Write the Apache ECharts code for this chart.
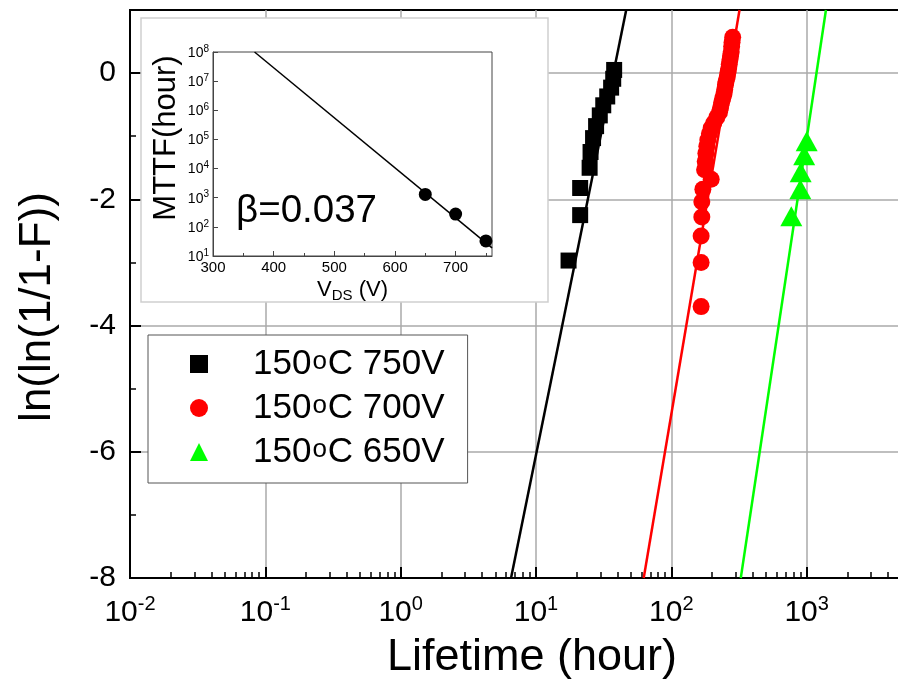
<!DOCTYPE html>
<html>
<head>
<meta charset="utf-8">
<script src="https://cdn.jsdelivr.net/npm/echarts@6/dist/echarts.min.js"></script>
<style>html,body{margin:0;padding:0;background:#fff}#c{width:898px;height:687px}</style>
</head>
<body>
<div id="c"></div>
<script>
// ---------- data ----------
const legendNames = ['150°C 750V', '150°C 700V', '150°C 650V'];

// 150°C 750V (black squares)
const t750 = [17.4, 21.2, 21.2, 24.9, 25.3, 26.4, 27.8, 29.6, 31.4, 33.6, 35.9, 37.2, 37.8];
const y750 = [-2.97, -2.25, -1.82, -1.50, -1.25, -1.03, -0.84, -0.67, -0.51, -0.37, -0.23, -0.09, 0.05];
// 150°C 700V (red circles)
const t700 = [166, 166, 166, 168, 168, 171, 197, 176, 178, 180, 183, 186, 191, 197, 206, 217, 227, 231, 235, 240, 245, 248, 251, 254, 259, 262, 265, 268, 271, 274, 277, 279, 281, 284];
const y700 = [-3.70, -3.00, -2.58, -2.28, -2.04, -1.84, -1.68, -1.53, -1.40, -1.27, -1.16, -1.06, -0.96, -0.87, -0.79, -0.70, -0.62, -0.55, -0.47, -0.40, -0.33, -0.26, -0.19, -0.13, -0.06, 0.01, 0.07, 0.14, 0.21, 0.27, 0.34, 0.42, 0.49, 0.57];
// 150°C 650V (green triangles)
const t650 = [770, 898, 903, 959, 1000];
const y650 = [-2.27, -1.84, -1.57, -1.30, -1.08];

// Weibull fit lines (end points)
const fitT750 = [6.54, 46.4];
const fitT700 = [62.5, 319];
const fitT650 = [326, 1388];
const fitY = [-8, 1];

// inset: MTTF vs VDS
const insetV = [650, 700, 750];
const insetMTTF = [1300, 275, 33];
const insetFitV = [368.5, 760];
const insetFitMTTF = [1e8, 19];
const betaText = 'β=0.037';

// ticks
const yMajor = [-8, -6, -4, -2, 0];
const yMinor = [-7, -5, -3, -1];
const insetXMajor = [300, 400, 500, 600, 700];
const insetXMinor = [350, 450, 550, 650, 750];

// ---------- helpers ----------
const FF = '"Liberation Sans", Arial, sans-serif';
const zip = (a, b) => a.map((v, i) => [v, b[i]]);
const minorX = [];
for (let d = -2; d <= 3; d++) for (let m = 2; m <= 9; m++) minorX.push(+(m * Math.pow(10, d)).toPrecision(3));
const supLabel = v => '{b|10}{s|' + Math.round(Math.log10(v)) + '}';

const chart = echarts.init(document.getElementById('c'), null, {renderer: 'canvas'});
const option = {
  animation: false,
  backgroundColor: '#fff',
  textStyle: {fontFamily: FF},
  grid: [
    {left: 130, top: 10, right: -44, bottom: 109, outerBoundsMode: 'none', containLabel: false, show: true, borderColor: '#000', borderWidth: 2, backgroundColor: 'transparent'},
    {left: 213, top: 52, width: 279, height: 204, outerBoundsMode: 'none', containLabel: false, show: true, borderColor: '#444', borderWidth: 1, backgroundColor: 'transparent', z: 60}
  ],
  graphic: [
    {type: 'rect', z: 50, shape: {x: 141, y: 18, width: 407, height: 284}, style: {fill: '#fff', stroke: '#cfcfcf', lineWidth: 1.5}},
    {type: 'text', z: 65, x: 236, y: 211, style: {text: betaText, font: '38.5px ' + FF, fill: '#000', textVerticalAlign: 'middle', textAlign: 'left'}}
  ],
  legend: {
    orient: 'vertical', left: 148, top: 335, padding: [7, 23, 9, 42],
    itemWidth: 18, itemHeight: 18, itemGap: 0,
    backgroundColor: '#fff', borderColor: '#555', borderWidth: 1,
    data: legendNames,
    formatter: n => '{a|150}{o|o}{a|' + n.slice(4) + '}',
    textStyle: {
      fontSize: 35, lineHeight: 44, color: '#000', padding: [0, 0, 0, 40],
      rich: {
        a: {fontSize: 35, lineHeight: 44, color: '#000', fontFamily: FF},
        o: {fontSize: 26, lineHeight: 44, color: '#000', fontFamily: FF, padding: [0, 1, 5, 1]}
      }
    }
  },
  xAxis: [
    {
      type: 'log', logBase: 10, gridIndex: 0, min: 0.01, max: 10000, position: 'bottom',
      axisLine: {onZero: false, lineStyle: {color: '#000', width: 2}},
      axisTick: {inside: true, length: 11, lineStyle: {color: '#000', width: 2}},
      splitLine: {show: true, lineStyle: {color: '#aaa', width: 1.5}},
      axisLabel: {
        margin: 16, color: '#000', formatter: supLabel,
        rich: {
          b: {fontSize: 30, lineHeight: 34, fontFamily: FF, color: '#000', verticalAlign: 'bottom'},
          s: {fontSize: 20, lineHeight: 20, fontFamily: FF, color: '#000', verticalAlign: 'top'}
        }
      },
      name: 'Lifetime (hour)', nameLocation: 'middle', nameGap: 57,
      nameTextStyle: {fontSize: 45, color: '#000', fontFamily: FF, padding: [0, 8, 0, 0]}
    },
    {
      type: 'log', logBase: 10, gridIndex: 0, min: 0.01, max: 10000, position: 'bottom',
      axisLine: {show: false, onZero: false}, axisLabel: {show: false}, splitLine: {show: false},
      axisTick: {inside: true, length: 6, customValues: minorX, lineStyle: {color: '#000', width: 1.5}}
    },
    {
      type: 'value', gridIndex: 1, min: 300, max: 760, position: 'bottom', z: 60,
      axisLine: {onZero: false, lineStyle: {color: '#444', width: 1}},
      axisTick: {inside: true, length: 5, customValues: insetXMajor, lineStyle: {color: '#444'}},
      axisLabel: {customValues: insetXMajor, fontSize: 15, color: '#000', margin: 4},
      splitLine: {show: false},
      name: '{v|V}{d|DS}{v| (V)}', nameLocation: 'middle', nameGap: 19,
      nameTextStyle: {
        rich: {
          v: {fontSize: 22, fontFamily: FF, color: '#000', verticalAlign: 'top', lineHeight: 24},
          d: {fontSize: 15, fontFamily: FF, color: '#000', verticalAlign: 'bottom', lineHeight: 24, padding: [12, 0, 0, 0]}
        }
      }
    },
    {
      type: 'value', gridIndex: 1, min: 300, max: 760, position: 'bottom', z: 60,
      axisLine: {show: false, onZero: false}, axisLabel: {show: false}, splitLine: {show: false},
      axisTick: {inside: true, length: 3, customValues: insetXMinor, lineStyle: {color: '#444'}}
    }
  ],
  yAxis: [
    {
      type: 'value', gridIndex: 0, min: -8, max: 1, interval: 2, position: 'left',
      axisLine: {onZero: false, lineStyle: {color: '#000', width: 2}},
      axisTick: {inside: true, length: 11, customValues: yMajor, lineStyle: {color: '#000', width: 2}},
      splitLine: {show: true, lineStyle: {color: '#aaa', width: 1.5}},
      axisLabel: {customValues: yMajor, fontSize: 30, color: '#000', margin: 14},
      name: 'ln(ln(1/1-F))', nameLocation: 'middle', nameGap: 70,
      nameTextStyle: {fontSize: 44, color: '#000', fontFamily: FF, padding: [0, 26, 0, 0]}
    },
    {
      type: 'value', gridIndex: 0, min: -8, max: 1, position: 'left',
      axisLine: {show: false, onZero: false}, axisLabel: {show: false}, splitLine: {show: false},
      axisTick: {inside: true, length: 6, customValues: yMinor, lineStyle: {color: '#000', width: 1.5}}
    },
    {
      type: 'log', logBase: 10, gridIndex: 1, min: 10, max: 1e8, position: 'left', z: 60,
      axisLine: {onZero: false, lineStyle: {color: '#444', width: 1}},
      axisTick: {inside: true, length: 5, lineStyle: {color: '#444'}},
      splitLine: {show: false},
      axisLabel: {
        margin: 4, formatter: supLabel,
        rich: {
          b: {fontSize: 14, lineHeight: 16, fontFamily: FF, color: '#000', verticalAlign: 'bottom'},
          s: {fontSize: 10, lineHeight: 10, fontFamily: FF, color: '#000', verticalAlign: 'top'}
        }
      },
      name: 'MTTF(hour)', nameLocation: 'middle', nameGap: 31,
      nameTextStyle: {fontSize: 31, color: '#000', fontFamily: FF, padding: [0, 0, 0, 32]}
    }
  ],
  series: [
    {name: 'fit750', type: 'line', xAxisIndex: 0, yAxisIndex: 0, data: zip(fitT750, fitY), symbol: 'none', lineStyle: {color: '#000', width: 2.5}, z: 2, silent: true},
    {name: 'fit700', type: 'line', xAxisIndex: 0, yAxisIndex: 0, data: zip(fitT700, fitY), symbol: 'none', lineStyle: {color: '#ff0000', width: 2.5}, z: 2, silent: true},
    {name: 'fit650', type: 'line', xAxisIndex: 0, yAxisIndex: 0, data: zip(fitT650, fitY), symbol: 'none', lineStyle: {color: '#00ff00', width: 2.5}, z: 2, silent: true},
    {name: legendNames[0], type: 'scatter', xAxisIndex: 0, yAxisIndex: 0, data: zip(t750, y750), symbol: 'rect', symbolSize: 16, itemStyle: {color: '#000', opacity: 1}, z: 3},
    {name: legendNames[1], type: 'scatter', xAxisIndex: 0, yAxisIndex: 0, data: zip(t700, y700), symbol: 'circle', symbolSize: 17, itemStyle: {color: '#ff0000', opacity: 1}, z: 3},
    {name: legendNames[2], type: 'scatter', xAxisIndex: 0, yAxisIndex: 0, data: zip(t650, y650), symbol: 'triangle', symbolSize: [22, 20], itemStyle: {color: '#00ff00', opacity: 1}, z: 3},
    {name: 'insetFit', type: 'line', xAxisIndex: 2, yAxisIndex: 2, data: zip(insetFitV, insetFitMTTF), symbol: 'none', lineStyle: {color: '#000', width: 1.5}, z: 61, silent: true},
    {name: 'insetPts', type: 'scatter', xAxisIndex: 2, yAxisIndex: 2, data: zip(insetV, insetMTTF), symbol: 'circle', symbolSize: 13, itemStyle: {color: '#000', opacity: 1}, z: 62}
  ]
};
chart.setOption(option);
</script>
</body>
</html>
